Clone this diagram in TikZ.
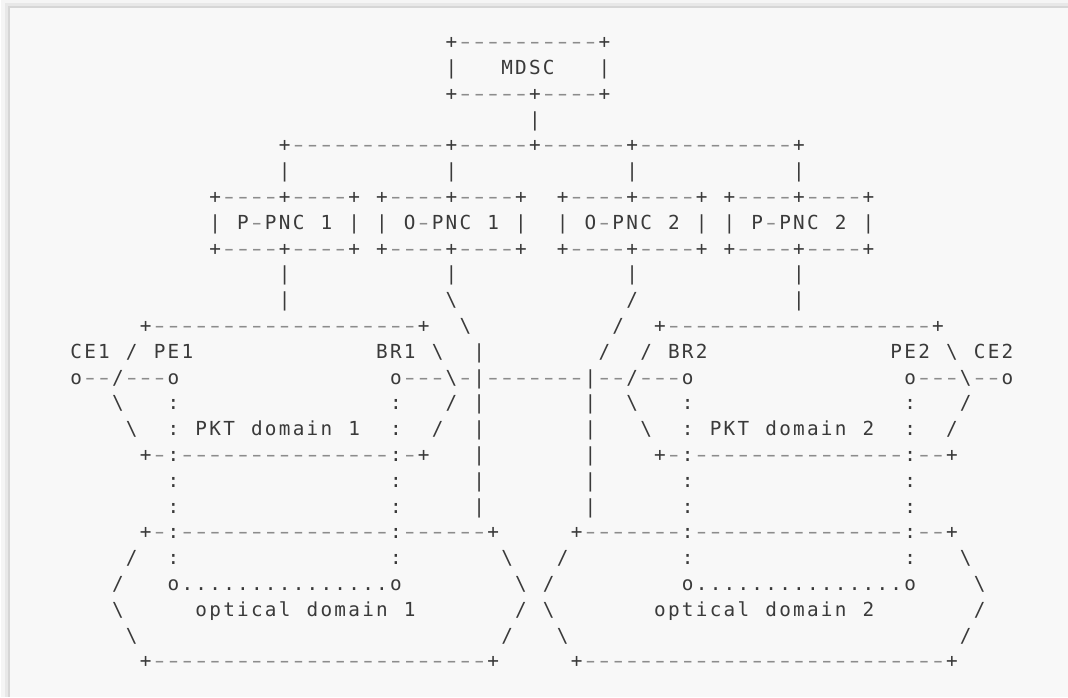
\documentclass[tikz,border=0pt]{standalone}
\usepackage{graphicx}
\usepackage{fontspec}
\setmonofont{DejaVu Sans Mono}

\definecolor{panel}{HTML}{F8F8F8}
\definecolor{ink}{HTML}{3A3A3A}
\definecolor{dashgray}{HTML}{8C8C8C}

% one character cell of the ascii figure
\newlength\cw
\setlength\cw{10.425pt}
\newcommand\bsl{\textbackslash}
% \asc{...}: one line, every character in its own cell, _ stands for a blank
\def\asc#1{\ascnext#1\relax}
\def\ascnext#1{\ifx#1\relax\else\makebox[\cw]{\ifx#1_\else\ifx#1-\textcolor{dashgray}{\scalebox{1.5}[1]{-}}\else#1\fi\fi}\expandafter\ascnext\fi}

\begin{document}
\begin{tikzpicture}[x=0.75pt, y=-0.75pt,
  row/.style={anchor=base west, inner sep=0pt, text=ink, font=\ttfamily\fontsize{14.5}{17}\selectfont}]
\useasboundingbox (0,0) rectangle (1068,697);
% page with shadowed panel
\fill[white] (0,0) rectangle (1068,697);
\fill[black!4] (1,0) rectangle (1068,697);
\fill[black!9] (5,3) rectangle (1068,697);
\fill[black!16] (8,6) rectangle (1068,697);
\fill[panel] (10,8) rectangle (1068,697);

% controllers
\node[row] (r0) at ({69+13.9*27},48.7) {\asc{+----------+}};
\node[row] (r1) at ({69+13.9*27},74.5) {\asc{|___MDSC___|}};
\node[row] (r2) at ({69+13.9*27},100.3) {\asc{+-----+----+}};
\node[row] (r3) at ({69+13.9*33},126.1) {\asc{|}};
\node[row] (r4) at ({69+13.9*15},151.9) {\asc{+-----------+-----+------+-----------+}};
\node[row] (r5) at ({69+13.9*15},177.7) {\asc{|___________|____________|___________|}};
\node[row] (r6) at ({69+13.9*10},203.5) {\asc{+----+----+_+----+----+__+----+----+_+----+----+}};
\node[row] (r7) at ({69+13.9*10},229.3) {\asc{|_P-PNC_1_|_|_O-PNC_1_|__|_O-PNC_2_|_|_P-PNC_2_|}};
\node[row] (r8) at ({69+13.9*10},255.1) {\asc{+----+----+_+----+----+__+----+----+_+----+----+}};
\node[row] (r9) at ({69+13.9*15},280.9) {\asc{|___________|____________|___________|}};
\node[row] (r10) at ({69+13.9*15},306.7) {\asc{|___________\bsl____________/___________|}};

% packet domains
\node[row] (r11) at ({69+13.9*5},332.5) {\asc{+-------------------+__\bsl__________/__+-------------------+}};
\node[row] (r12) at (69,358.3) {\asc{CE1_/_PE1_____________BR1_\bsl__|________/__/_BR2_____________PE2_\bsl_CE2}};
\node[row] (r13) at (69,384.1) {\asc{o--/---o_______________o---\bsl-|-------|--/---o_______________o---\bsl--o}};
\node[row] (r14) at ({69+13.9*3},409.9) {\asc{\bsl___:_______________:___/_|_______|__\bsl___:_______________:___/}};
\node[row] (r15) at ({69+13.9*4},435.7) {\asc{\bsl__:_PKT_domain_1__:__/__|_______|___\bsl__:_PKT_domain_2__:__/}};
\node[row] (r16) at ({69+13.9*5},461.5) {\asc{+-:---------------:-+___|_______|____+-:---------------:--+}};
\node[row] (r17) at ({69+13.9*7},487.3) {\asc{:_______________:_____|_______|______:_______________:}};
\node[row] (r18) at ({69+13.9*7},513.1) {\asc{:_______________:_____|_______|______:_______________:}};

% optical domains
\node[row] (r19) at ({69+13.9*5},538.9) {\asc{+-:---------------:------+_____+-------:---------------:--+}};
\node[row] (r20) at ({69+13.9*4},564.7) {\asc{/__:_______________:_______\bsl___/________:_______________:___\bsl}};
\node[row] (r21) at ({69+13.9*3},590.5) {\asc{/___o...............o________\bsl_/_________o...............o____\bsl}};
\node[row] (r22) at ({69+13.9*3},616.3) {\asc{\bsl_____optical_domain_1_______/_\bsl_______optical_domain_2_______/}};
\node[row] (r23) at ({69+13.9*4},642.1) {\asc{\bsl__________________________/___\bsl____________________________/}};
\node[row] (r24) at ({69+13.9*5},667.9) {\asc{+------------------------+_____+--------------------------+}};
\end{tikzpicture}
\end{document}
